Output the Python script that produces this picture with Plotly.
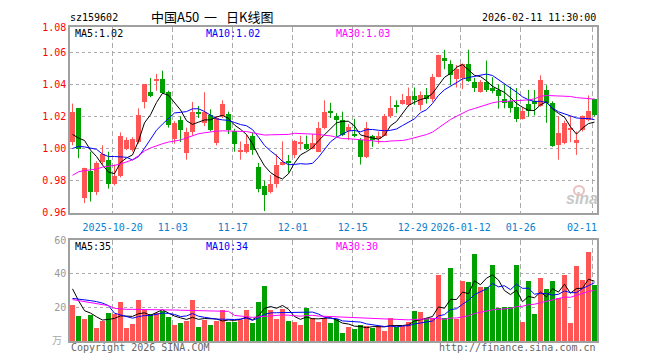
import pandas as pd
import plotly.graph_objects as go

# ---------------- data ----------------
dates = [d.strftime("%Y-%m-%d") for d in pd.bdate_range("2025-10-09", "2026-02-11")
         if d.strftime("%Y-%m-%d") not in ("2026-01-01", "2026-01-02")]

opens = [1.004, 1.025, 0.969, 0.986, 0.973, 0.9915, 0.993, 0.978, 0.983, 1.000,
         0.999, 1.004, 1.029, 1.035, 1.042, 1.0433, 1.035, 1.006, 1.0177, 0.997,
         1.010, 1.023, 1.0156, 1.0206, 1.0033, 1.0202, 1.0215, 1.011, 0.998, 0.9977,
         1.0077, 0.9886, 0.9765, 0.9727, 0.978, 0.990, 0.9915, 0.996, 1.003, 1.003,
         1.000, 0.998, 1.0127, 1.023, 1.0202, 1.0177, 1.0106, 1.0085, 1.0052, 0.9948,
         1.0081, 1.006, 1.008, 1.020, 1.0265, 1.028, 1.027, 1.0327, 1.027, 1.0331,
         1.031, 1.0448, 1.0565, 1.0527, 1.0435, 1.044, 1.0527, 1.0415, 1.0352, 1.0415,
         1.038, 1.0365, 1.0306, 1.0294, 1.026, 1.0185, 1.0277, 1.0294, 1.0265, 1.0365,
         1.0281, 1.0019, 1.0035, 1.012, 1.0035, 1.0115, 1.0177, 1.0306]
highs = [1.028, 1.025, 0.988, 0.998, 0.992, 1.002, 0.998, 0.990, 1.010, 1.007,
         1.007, 1.025, 1.040, 1.044, 1.0465, 1.0485, 1.036, 1.017, 1.020, 1.013,
         1.029, 1.0265, 1.035, 1.0244, 1.020, 1.030, 1.023, 1.0123, 1.0044, 1.0085,
         1.010, 0.991, 0.980, 0.9835, 0.9965, 1.0044, 0.996, 1.0052, 1.008, 1.008,
         1.009, 1.0165, 1.030, 1.0285, 1.022, 1.023, 1.0152, 1.0185, 1.0065, 1.0165,
         1.0085, 1.0106, 1.0215, 1.0327, 1.030, 1.034, 1.038, 1.038, 1.0356, 1.0377,
         1.0465, 1.0585, 1.0615, 1.055, 1.052, 1.053, 1.0615, 1.044, 1.0427, 1.0548,
         1.0444, 1.040, 1.040, 1.0385, 1.0377, 1.0256, 1.0365, 1.0365, 1.0456, 1.0394,
         1.0294, 1.0202, 1.0173, 1.0202, 1.0106, 1.0206, 1.0331, 1.031]
lows = [1.002, 0.994, 0.966, 0.967, 0.971, 0.990, 0.975, 0.977, 0.982, 0.999,
        0.998, 1.003, 1.025, 1.032, 1.036, 1.034, 1.013, 1.003, 1.004, 0.993,
        1.008, 1.019, 1.014, 1.0107, 1.002, 1.019, 1.009, 0.998, 0.993, 0.997,
        0.996, 0.9727, 0.961, 0.972, 0.9756, 0.9895, 0.985, 0.994, 0.999, 0.999,
        0.9995, 0.9977, 1.012, 1.019, 1.0073, 1.0077, 1.0052, 1.007, 0.990, 0.994,
        1.001, 1.003, 1.0077, 1.019, 1.022, 1.0273, 1.026, 1.0273, 1.0236, 1.028,
        1.029, 1.0444, 1.0494, 1.0394, 1.038, 1.037, 1.0415, 1.0352, 1.0348, 1.0352,
        1.0344, 1.0248, 1.025, 1.0223, 1.0165, 1.018, 1.0198, 1.0206, 1.026, 1.016,
        1.001, 0.993, 1.0027, 1.004, 0.996, 1.0106, 1.017, 1.020]
closes = [1.023, 1.000, 0.988, 0.973, 0.991, 0.9965, 0.978, 0.983, 1.008, 1.005,
          1.006, 1.021, 1.040, 1.033, 1.0435, 1.0346, 1.0145, 1.016, 1.0115, 1.010,
          1.023, 1.0215, 1.023, 1.0117, 1.019, 1.028, 1.0117, 1.0027, 0.9985, 1.0027,
          0.999, 0.9748, 0.971, 0.9777, 0.990, 0.9915, 0.991, 1.0044, 1.0033, 1.000,
          1.0035, 1.013, 1.0227, 1.0225, 1.018, 1.0085, 1.0131, 1.0081, 0.9948, 1.0127,
          1.0052, 1.008, 1.020, 1.025, 1.026, 1.030, 1.033, 1.030, 1.0335, 1.0306,
          1.0444, 1.0585, 1.0548, 1.0456, 1.0498, 1.0527, 1.0423, 1.0377, 1.0415, 1.0365,
          1.0356, 1.0327, 1.0285, 1.0252, 1.0185, 1.0235, 1.0235, 1.0277, 1.0427, 1.0281,
          1.0015, 1.0094, 1.016, 1.0127, 1.0052, 1.0202, 1.0235, 1.0206]
volumes = [21.2, 14.6, 12.8, 15.3, 8.0, 11.6, 16.4, 15.8, 23.0, 8.0,
           9.9, 24.2, 18.6, 15.8, 16.4, 18.0, 14.1, 9.8, 10.5, 11.7,
           24.2, 8.1, 12.2, 9.3, 11.7, 18.2, 11.0, 11.0, 12.4, 18.2,
           10.5, 23.0, 32.6, 18.2, 12.9, 18.9, 11.7, 11.0, 9.8, 19.9,
           13.8, 11.3, 13.8, 10.5, 13.0, 4.5, 8.6, 7.4, 9.8, 9.0,
           8.0, 9.0, 6.2, 13.4, 8.2, 9.2, 11.0, 17.6, 17.0, 13.4,
           13.8, 39.5, 13.6, 43.5, 12.9, 35.7, 35.0, 51.4, 32.2, 32.2,
           45.4, 19.8, 20.2, 20.2, 45.4, 11.1, 35.7, 15.9, 37.4, 30.7,
           35.7, 25.6, 39.4, 10.5, 44.8, 36.2, 52.6, 33.5]

ma5_early = [1.0088, 1.0065, 1.005, 0.999]
ma10_early = [1.000, 1.0013, 1.001, 1.0003, 0.9995, 0.9965, 0.995, 0.995, 0.995]
ma30_early = [0.9833, 0.9855, 0.9862, 0.9866, 0.9872, 0.9884, 0.9888, 0.9895, 0.9903, 0.9915,
              0.993, 0.9955, 0.9985, 1.0003, 1.0018, 1.003, 1.004, 1.0048, 1.0053, 1.0066,
              1.0078, 1.0092, 1.0098, 1.0105, 1.0108, 1.011, 1.011, 1.011, 1.0106]
vma5_early = [31.0, 24.0, 18.0, 16.6]
vma10_early = [25.3, 25.0, 24.6, 24.0, 23.4, 22.5, 21.0, 16.5, 15.5]
vma30_early = [24.6, 24.0, 23.4, 22.8, 22.4, 21.8, 21.0, 19.4, 19.0, 18.8,
               18.8, 18.8, 18.8, 18.8, 18.8, 18.7, 18.5, 18.4, 18.3, 18.2,
               18.2, 18.1, 18.0, 18.0, 17.9, 17.8, 17.6, 15.2, 15.0]

tick_dates = ["2025-10-20", "2025-11-03", "2025-11-17", "2025-12-01", "2025-12-15",
              "2025-12-29", "2026-01-12", "2026-01-26", "2026-02-11"]
tick_labels = ["2025-10-20", "11-03", "11-17", "12-01", "12-15",
               "12-29", "2026-01-12", "01-26", "02-11"]
price_ticks = [0.96, 0.98, 1.00, 1.02, 1.04, 1.06]
price_tick_text = ["0.96", "0.98", "1.00", "1.02", "1.04", "1.06"]
vol_ticks = [20, 40, 60]

# ---------------- helpers ----------------
def moving(vals, n, early):
    s = pd.Series(vals, dtype=float).rolling(n).mean().tolist()
    s[:n - 1] = early
    return s

RED = "#ff5555"
GREEN = "#00a000"
idx = list(range(len(dates)))
up = [c >= o for o, c in zip(opens, closes)]
colors = [RED if u else GREEN for u in up]
body_base = [min(o, c) for o, c in zip(opens, closes)]
body_h = [max(abs(c - o), 0.0006) for o, c in zip(opens, closes)]

ma5 = moving(closes, 5, ma5_early)
ma10 = moving(closes, 10, ma10_early)
ma30 = moving(closes, 30, ma30_early)
vma5 = moving(volumes, 5, vma5_early)
vma10 = moving(volumes, 10, vma10_early)
vma30 = moving(volumes, 30, vma30_early)

def wick_xy(flag):
    xs, ys = [], []
    for i in idx:
        if up[i] == flag:
            xs += [i, i, None]
            ys += [lows[i], highs[i], None]
    return xs, ys

fig = go.Figure()
for flag, col in ((True, RED), (False, GREEN)):
    wx, wy = wick_xy(flag)
    fig.add_trace(go.Scatter(x=wx, y=wy, mode="lines", line=dict(color=col, width=1),
                             hoverinfo="skip", showlegend=False, xaxis="x", yaxis="y"))
fig.add_trace(go.Bar(x=idx, y=body_h, base=body_base, width=0.8,
                     marker=dict(color=colors, line=dict(width=0)),
                     showlegend=False, xaxis="x", yaxis="y"))
for vals, col in ((ma5, "black"), (ma10, "#0000ff"), (ma30, "#ff00ff")):
    fig.add_trace(go.Scatter(x=idx, y=vals, mode="lines", line=dict(color=col, width=1),
                             showlegend=False, xaxis="x", yaxis="y"))

fig.add_trace(go.Bar(x=idx, y=volumes, width=0.8,
                     marker=dict(color=colors, line=dict(width=0)),
                     showlegend=False, xaxis="x2", yaxis="y2"))
for vals, col in ((vma5, "black"), (vma10, "#0000ff"), (vma30, "#ff00ff")):
    fig.add_trace(go.Scatter(x=idx, y=vals, mode="lines", line=dict(color=col, width=1),
                             showlegend=False, xaxis="x2", yaxis="y2"))

# ---------------- layout ----------------
# The page body has an 8px margin, so the figure is drawn 8px in from the window corner.
OFF = 8
W, H = 660 - OFF, 360 - OFF
PL, PR, PT, PB = 70, 597, 27, 341          # plot area in window pixels
L, R, T, B = PL - OFF, W - (PR - OFF), PT - OFF, H - (PB - OFF)
ph = PB - PT

def py(pix):  # window pixel y -> paper y
    return (PB - pix) / ph

def px(pix):  # window pixel x -> paper x
    return (pix - PL) / (PR - PL)

MONO = "DejaVu Sans Mono"
CJK = "Noto Sans CJK SC"
XBLUE = "#0a80d0"
grid_x = [dates.index(d) - 0.3 for d in tick_dates]
# the last label is pulled inside the frame, as in the reference
shown_labels = tick_labels[:-1] + [""]
xcommon = dict(range=[-0.417, 87.42], tickvals=grid_x, showgrid=True, gridcolor="#aaaaaa",
               griddash="5px,3px", gridwidth=1, showline=True, mirror=True,
               linecolor="#a0a0a0", linewidth=1.5, zeroline=False, ticks="", fixedrange=True)
fig.update_layout(
    width=W, height=H, margin=dict(l=L, r=R, t=T, b=B),
    paper_bgcolor="white", plot_bgcolor="white", barmode="overlay", bargap=0,
    showlegend=False,
    xaxis=dict(**xcommon, ticktext=shown_labels, anchor="y", ticklabelstandoff=5,
               tickfont=dict(family=MONO, size=10, color=XBLUE)),
    xaxis2=dict(**xcommon, ticktext=[""] * len(grid_x), anchor="y2", matches="x",
                showticklabels=False),
    yaxis=dict(domain=[py(212.7), 1.0], range=[0.96, 1.0757],
               tickvals=price_ticks + [1.0757], ticktext=price_tick_text + ["1.08"],
               tickfont=dict(family=MONO, size=10, color="red"),
               showgrid=True, gridcolor="#aaaaaa", griddash="dot", gridwidth=1,
               showline=True, mirror=True, linecolor="#a0a0a0", linewidth=1.5,
               zeroline=False, ticks="", anchor="x", fixedrange=True),
    yaxis2=dict(domain=[0.0, py(240)], range=[0, 60], tickvals=vol_ticks,
                ticktext=[str(v) for v in vol_ticks],
                tickfont=dict(family=MONO, size=10, color="#999999"),
                showgrid=True, gridcolor="#aaaaaa", griddash="dot", gridwidth=1,
                showline=True, mirror=True, linecolor="#a0a0a0", linewidth=1.5,
                zeroline=False, ticks="", anchor="x2", fixedrange=True),
)

def note(text, x, y, color="black", xanchor="left", size=10, family=MONO, **kw):
    fig.add_annotation(text=text, x=x, y=y, xref="paper", yref="paper", showarrow=False,
                       xanchor=xanchor, yanchor="middle",
                       font=dict(family=family, size=size, color=color), **kw)

note("sz159602", px(68), py(17))
note("中国A50", px(149), py(16.5), size=13, family=CJK)
note("一", px(202), py(16.5), size=13, family=CJK)
note("日K线图", px(224), py(16.5), size=13, family=CJK)
note("2026-02-11 11:30:00", px(598), py(17), xanchor="right")
note("MA5:1.02", px(73), py(33.5))
note("MA10:1.02", px(204), py(33.5), color="#0000ff")
note("MA30:1.03", px(334), py(33.5), color="#ff00ff")
note(tick_labels[-1], px(581.5), py(227.5), color=XBLUE, xanchor="center")
note("MA5:35", px(73), py(246.5))
note("MA10:34", px(204), py(246.5), color="#0000ff")
note("MA30:30", px(334), py(246.5), color="#ff00ff")
note("万", px(64), py(339), color="#aaaaaa", xanchor="right", size=10, family=CJK)
note("Copyright 2026 SINA.COM", px(69), py(347), color="#666666")
note("http://finance.sina.com.cn", px(598), py(347), color="#666666", xanchor="right")
note("<b><i>sina</i></b>", px(582), py(198), color="#c8c8c8", xanchor="center",
     size=16, family="Liberation Sans")
fig.add_shape(type="circle", xref="paper", yref="paper",
              x0=px(574), x1=px(584), y0=py(195), y1=py(186),
              line=dict(color="#ecc0c0", width=2), fillcolor="rgba(0,0,0,0)")

fig.write_html("out.html")
